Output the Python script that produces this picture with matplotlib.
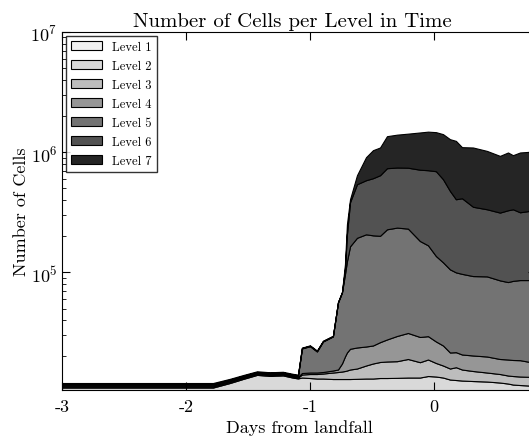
import matplotlib
matplotlib.use("Agg")
import matplotlib.pyplot as plt
import numpy as np

plt.rcParams['font.family'] = 'serif'
plt.rcParams['font.serif'] = ['cmr10']
plt.rcParams['mathtext.fontset'] = 'cm'
plt.rcParams['axes.formatter.use_mathtext'] = True
plt.rcParams['axes.unicode_minus'] = False

# days from landfall
days = [-3.0, -2.29, -1.782, -1.645, -1.540, -1.427, -1.323, -1.218, -1.137, -1.097,
        -1.065, -1.0, -0.944, -0.895, -0.815, -0.774, -0.742, -0.718, -0.702, -0.677,
        -0.621, -0.548, -0.492, -0.435, -0.379, -0.298, -0.210, -0.113, -0.048, 0.016,
        0.073, 0.129, 0.177, 0.226, 0.315, 0.427, 0.532, 0.597, 0.637, 0.694,
        0.766, 0.85]

# number of cells on each refinement level
level1 = [4096] * len(days)
level2 = [6910, 6910, 6910, 7920, 8880, 9930, 9660, 9790, 9210, 9010,
          9239, 9114, 8987, 8987, 8862, 8862, 8862, 8862, 8862, 8862,
          8912, 8987, 8987, 9114, 9114, 9161, 9239, 9239, 9629, 9498,
          9239, 8737, 8616, 8493, 8372, 8254, 8019, 7789, 7563, 7452,
          7343, 7300]
level3 = [200, 200, 200, 200, 200, 200, 200, 200, 200, 200,
          790, 1051, 1178, 1315, 1720, 1862, 2004, 2148, 2295, 2591,
          2841, 3705, 4368, 4748, 4921, 4979, 5686, 4554, 5111, 4022,
          3453, 3016, 3538, 2960, 2638, 2328, 2146, 1972, 2066, 2046,
          2080, 2080]
level4 = [200, 200, 200, 200, 200, 200, 200, 200, 200, 200,
          413, 417, 417, 422, 575, 729, 2489, 4847, 6291, 7582,
          7865, 7378, 7186, 8295, 9522, 11331, 12297, 11115, 10618, 8991,
          7849, 5695, 5419, 5187, 5236, 5275, 4760, 4979, 4936, 4996,
          4506, 4500]
level5 = [200, 200, 200, 200, 200, 200, 200, 200, 200, 200,
          8725, 9633, 7285, 11787, 14033, 40685, 50678, 76279, 101966, 141569,
          170186, 183134, 178663, 175247, 200547, 206233, 199982, 153296, 138446, 110093,
          96563, 84386, 78331, 76424, 72808, 72657, 66749, 64214, 66309, 67690,
          68255, 68000]
level6 = [200, 200, 200, 200, 200, 200, 200, 200, 200, 200,
          200, 200, 200, 200, 200, 200, 200, 9698, 83790, 218400,
          347300, 377200, 404100, 441600, 507400, 509900, 511600, 532500, 540000, 557800,
          474500, 370070, 305800, 316540, 258250, 242390, 228630, 245550, 250030, 229920,
          237920, 238000]
level7 = [200, 200, 200, 200, 200, 200, 200, 200, 200, 200,
          200, 200, 200, 200, 200, 200, 200, 10660, 43890, 22700,
          101900, 324100, 431600, 450900, 623400, 653300, 683100, 744200, 774100, 773500,
          817300, 807000, 836200, 687300, 742600, 690000, 617100, 665700, 609100, 678100,
          681800, 682000]

labels = ['Level 1', 'Level 2', 'Level 3', 'Level 4', 'Level 5', 'Level 6', 'Level 7']
colors = ['#f0f0f0', '#d9d9d9', '#bdbdbd', '#969696', '#737373', '#525252', '#252525']

fig = plt.figure(figsize=(5.29, 4.39), dpi=100)
# axes runs past the right edge of the picture, like the cropped original
ax = fig.add_axes([62 / 529, 48 / 439, 474 / 529, 358 / 439])

ax.stackplot(days, level1, level2, level3, level4, level5, level6, level7,
             labels=labels, colors=colors, edgecolor='black', linewidth=0.8)

ax.set_yscale('log')
ax.set_ylim(1.05e4, 1e7)
ax.set_xlim(-3, 0.823)
ax.set_xticks([-3, -2, -1, 0])
ax.set_xticklabels(['-3', '-2', '-1', '0'])

ax.tick_params(which='both', direction='in', top=True, right=True, labelsize=13)
ax.tick_params(which='major', length=6)
ax.tick_params(which='minor', length=3)
ax.tick_params(axis='x', pad=6)

ax.set_title('Number of Cells per Level in Time', fontsize=15, pad=4, x=0.487)
ax.set_xlabel('Days from landfall', fontsize=13)
ax.set_ylabel('Number of Cells', fontsize=13, labelpad=1)

leg = ax.legend(loc='upper left', fontsize=9, frameon=True, fancybox=False,
                borderaxespad=0.3, handlelength=2.5, labelspacing=0.55)
leg.get_frame().set_edgecolor('black')
leg.get_frame().set_linewidth(1.0)

fig.savefig('out.png', dpi=100)
